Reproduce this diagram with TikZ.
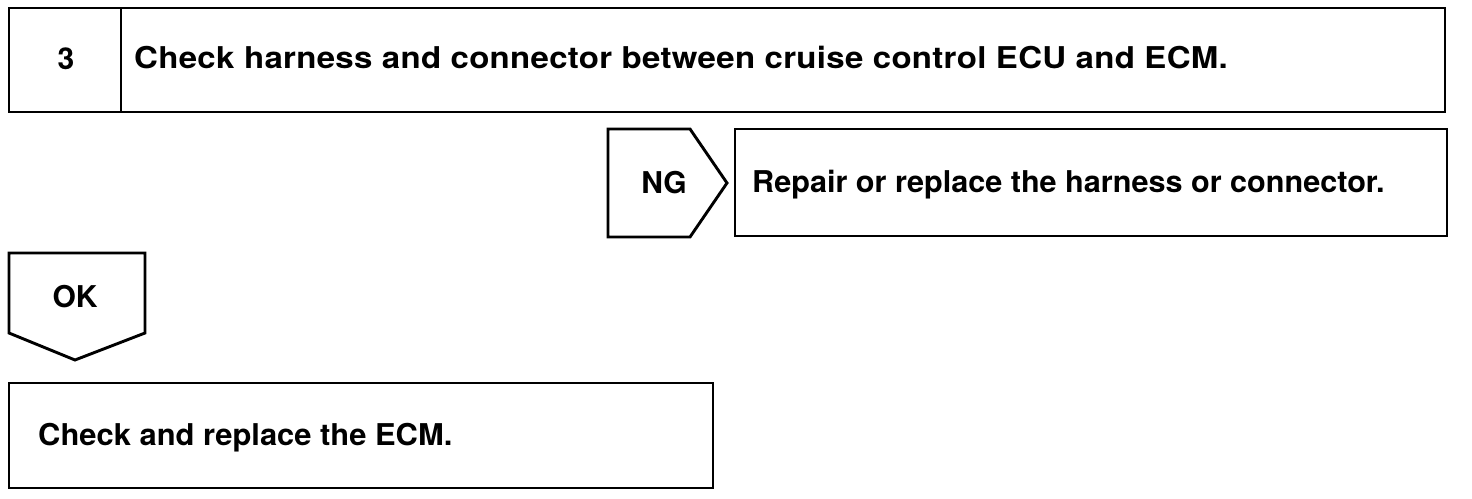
\documentclass[tikz,border=0pt]{standalone}
\usepackage{fontspec}
\setmainfont{TeX Gyre Heros}
\usepackage{tikz}

\tikzset{
  frame/.style={line width=2.9pt, line join=miter},
  label/.style={font=\fontsize{30}{36}\selectfont\bfseries, inner sep=0pt},
}

\begin{document}
\begin{tikzpicture}[x=1pt,y=-1pt]
  \useasboundingbox (0,0) rectangle (1472,498);
  % step header
  \draw[frame] (9,8) rectangle (1445,112);
  \draw[frame] (121,8) -- (121,112);
  \node[label, anchor=base] (num) at (66,69) {3};
  \node[label, anchor=base west] (title) at (134,68)
    {\addfontfeature{FakeStretch=1.1,LetterSpace=1}Check harness and connector between cruise control ECU and ECM.};
  % NG branch
  \draw[frame] (608,129) -- (690,129) -- (727,183) -- (690,237) -- (608,237) -- cycle;
  \node[label, anchor=base] (ng) at (664,193) {NG};
  \draw[frame] (735,129) rectangle (1447,236);
  \node[label, anchor=base west] (repair) at (752,192)
    {\addfontfeature{FakeStretch=1.02}Repair or replace the harness or connector.};
  % OK branch
  \draw[frame] (9,253) -- (145,253) -- (145,333) -- (75,360) -- (9,333) -- cycle;
  \node[label, anchor=base] (ok) at (75,307) {OK};
  \draw[frame] (9,383) rectangle (713,488);
  \node[label, anchor=base west] (ecm) at (38,445)
    {\addfontfeature{FakeStretch=1.03}Check and replace the ECM.};
\end{tikzpicture}
\end{document}
